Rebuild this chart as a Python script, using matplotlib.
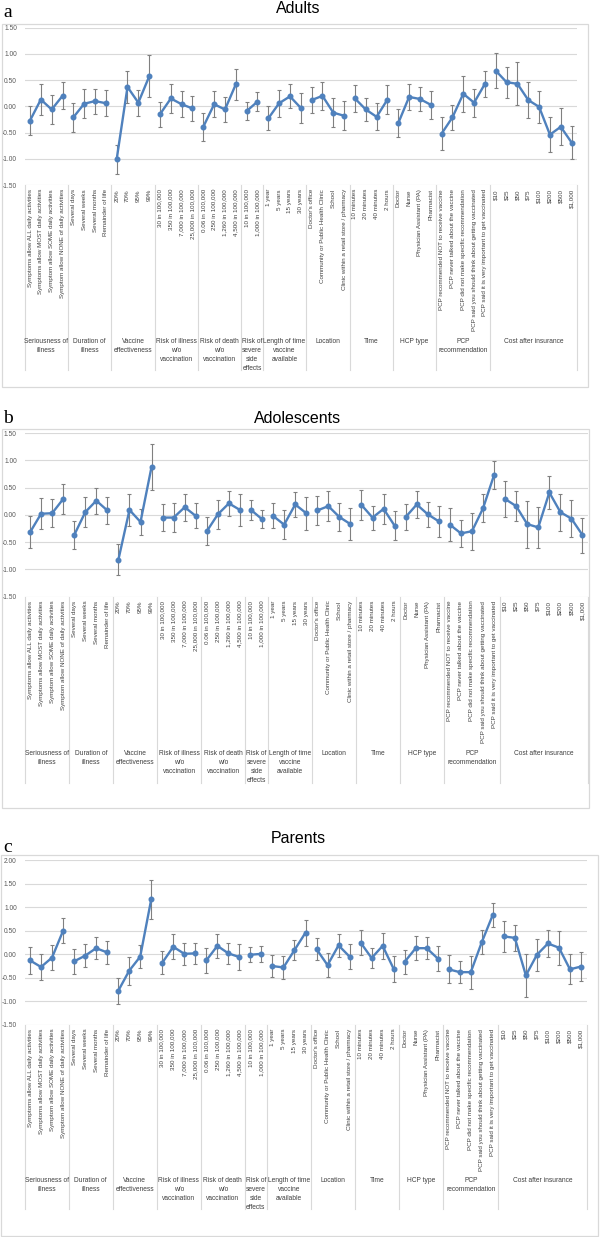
import matplotlib
matplotlib.use('Agg')
import matplotlib.pyplot as plt
import matplotlib.transforms as mtransforms
from matplotlib.patches import Rectangle
from matplotlib.ticker import FormatStrFormatter
import numpy as np

plt.rcParams['axes.unicode_minus'] = False
plt.rcParams['font.family'] = ['Liberation Sans', 'DejaVu Sans']

# attribute groups (wrapped the way the category axis shows them)
groups = ["Seriousness of\nillness", "Duration of\nillness", "Vaccine\neffectiveness",
          "Risk of illness\nw/o\nvaccination", "Risk of death\nw/o\nvaccination",
          "Risk of\nsevere\nside\neffects", "Length of time\nvaccine\navailable",
          "Location", "Time", "HCP type", "PCP\nrecommendation", "Cost after insurance"]

seriousness = ["Symptoms allow ALL daily activities", "Symptoms allow MOST daily activities",
               "Symptom allow SOME daily activities", "Symptom allow NONE of daily activities"]
duration = ["Several days", "Several weeks", "Several months", "Remainder of life"]
effectiveness = ["20%", "70%", "95%", "99%"]
illness_risk = ["30 in 100,000", "350 in 100,000", "7,000 in 100,000", "25,000 in 100,000"]
death_risk = ["0.06 in 100,000", "250 in 100,000", "1,260 in 100,000", "4,500 in 100,000"]
side_effects = ["10 in 100,000", "1,000 in 100,000"]
availability = ["1 year", "5 years", "15 years", "30 years"]
location = ["Doctor's office", "Community or Public Health Clinic", "School",
            "Clinic within a retail store / pharmacy"]
wait_time = ["10 minutes", "20 minutes", "40 minutes", "2 hours"]
hcp = ["Doctor", "Nurse", "Physician Assistant (PA)", "Pharmacist"]
pcp = ["PCP recommended NOT to receive vaccine", "PCP never talked about the vaccine",
       "PCP did not make specific recommendation", "PCP said you should think about getting vaccinated",
       "PCP said it is very important to get vaccinated"]
cost = ["$10", "$25", "$50", "$75", "$100", "$200", "$500", "$1,000"]

levels = [seriousness, duration, effectiveness, illness_risk, death_risk, side_effects,
          availability, location, wait_time, hcp, pcp, cost]

adults_values = [-0.27, 0.13, -0.06, 0.20,
                 -0.21, 0.05, 0.10, 0.06,
                 -1.01, 0.37, 0.07, 0.57,
                 -0.15, 0.15, 0.04, -0.04,
                 -0.39, 0.04, -0.06, 0.42,
                 -0.09, 0.09,
                 -0.23, 0.06, 0.19, -0.03,
                 0.12, 0.20, -0.12, -0.18,
                 0.15, -0.06, -0.20, 0.13,
                 -0.32, 0.18, 0.14, 0.03,
                 -0.52, -0.21, 0.24, 0.07, 0.43,
                 0.68, 0.46, 0.43, 0.12, -0.01, -0.54, -0.39, -0.69]
adults_errors = [0.28, 0.29, 0.28, 0.26,
                 0.27, 0.28, 0.24, 0.25,
                 0.28, 0.30, 0.25, 0.40,
                 0.24, 0.27, 0.25, 0.23,
                 0.27, 0.25, 0.23, 0.30,
                 0.17, 0.18,
                 0.23, 0.26, 0.23, 0.28,
                 0.24, 0.27, 0.27, 0.28,
                 0.25, 0.22, 0.26, 0.27,
                 0.26, 0.25, 0.23, 0.27,
                 0.32, 0.24, 0.34, 0.27, 0.25,
                 0.33, 0.30, 0.41, 0.34, 0.30, 0.34, 0.35, 0.32]

adolescents_values = [-0.32, 0.02, 0.03, 0.29,
                      -0.37, 0.05, 0.26, 0.08,
                      -0.82, 0.09, -0.13, 0.88,
                      -0.05, -0.05, 0.14, -0.02,
                      -0.30, 0.01, 0.21, 0.09,
                      0.09, -0.08,
                      -0.02, -0.18, 0.19, 0.03,
                      0.08, 0.16, -0.04, -0.17,
                      0.18, -0.05, 0.11, -0.20,
                      -0.04, 0.19, 0.01, -0.12,
                      -0.18, -0.34, -0.30, 0.12, 0.73,
                      0.29, 0.16, -0.17, -0.23, 0.41, 0.05, -0.07, -0.37]
adolescents_errors = [0.29, 0.28, 0.26, 0.27,
                      0.25, 0.27, 0.24, 0.24,
                      0.28, 0.29, 0.24, 0.42,
                      0.24, 0.27, 0.25, 0.23,
                      0.26, 0.27, 0.23, 0.29,
                      0.18, 0.17,
                      0.23, 0.26, 0.23, 0.30,
                      0.26, 0.27, 0.26, 0.29,
                      0.27, 0.22, 0.27, 0.27,
                      0.24, 0.25, 0.23, 0.28,
                      0.30, 0.25, 0.34, 0.26, 0.26,
                      0.33, 0.28, 0.43, 0.37, 0.30, 0.34, 0.34, 0.32]

parents_values = [-0.13, -0.27, -0.07, 0.50,
                  -0.15, -0.03, 0.13, 0.04,
                  -0.78, -0.35, -0.05, 1.17,
                  -0.18, 0.16, 0.01, 0.02,
                  -0.13, 0.18, 0.02, -0.06,
                  -0.01, 0.01,
                  -0.25, -0.28, 0.09, 0.46,
                  0.11, -0.23, 0.19, -0.05,
                  0.25, -0.08, 0.18, -0.31,
                  -0.16, 0.13, 0.13, -0.09,
                  -0.32, -0.38, -0.38, 0.26, 0.84,
                  0.38, 0.35, -0.45, -0.01, 0.23, 0.14, -0.32, -0.26]
parents_errors = [0.28, 0.27, 0.27, 0.27,
                  0.27, 0.25, 0.23, 0.24,
                  0.27, 0.30, 0.24, 0.42,
                  0.24, 0.27, 0.23, 0.23,
                  0.27, 0.25, 0.22, 0.28,
                  0.16, 0.17,
                  0.23, 0.25, 0.22, 0.28,
                  0.24, 0.26, 0.25, 0.27,
                  0.27, 0.21, 0.27, 0.27,
                  0.25, 0.25, 0.23, 0.27,
                  0.30, 0.24, 0.35, 0.25, 0.26,
                  0.33, 0.28, 0.45, 0.34, 0.29, 0.36, 0.32, 0.30]

W, H = 601, 1237
fig = plt.figure(figsize=(W / 100, H / 100), dpi=100)
blue = '#4f81bd'
grid = '#d9d9d9'


def fx(px):
    return px / W


def fy(py):
    return 1 - py / H


def panel(letter, title, values, errors, ymax, box, plot, label_bottom, group_top, title_y, letter_y):
    l, t, r, b = box
    fig.patches.append(Rectangle((fx(l), fy(b)), fx(r - l), (b - t) / H, transform=fig.transFigure,
                                 fill=False, ec=grid, lw=0.9))
    pl, pt, pr, pb = plot
    ax = fig.add_axes([fx(pl), fy(pb), fx(pr - pl), (pb - pt) / H])
    for s in ax.spines.values():
        s.set_visible(False)
    ax.set_xlim(-0.5, 50.5)
    ax.set_ylim(-1.5, ymax)
    ax.set_yticks(np.arange(-1.5, ymax + 0.01, 0.5))
    ax.yaxis.set_major_formatter(FormatStrFormatter('%.2f'))
    ax.yaxis.grid(True, color=grid, lw=0.8)
    ax.set_axisbelow(True)
    ax.set_xticks([])
    ax.tick_params(axis='y', length=0, pad=5.5, labelsize=4.8, labelcolor='#595959')

    trans = mtransforms.blended_transform_factory(ax.transData, fig.transFigure)
    start = 0
    for gname, labs in zip(groups, levels):
        n = len(labs)
        x = np.arange(start, start + n)
        ax.errorbar(x, values[start:start + n], yerr=errors[start:start + n], fmt='-o', color=blue,
                    lw=1.7, ms=3.3, ecolor='#808080', elinewidth=0.8, capsize=1.6, capthick=0.8, zorder=3)
        for xi, lab in zip(x, labs):
            ax.text(xi, fy(pb + 4), lab, rotation=90, ha='center', va='top', fontsize=4.5,
                    color='#404040', transform=trans, parse_math=False)
        ax.text(x.mean(), fy(group_top), gname, ha='center', va='top', fontsize=4.8,
                color='#404040', linespacing=1.4, transform=trans)
        ax.plot([start - 0.5, start - 0.5], [fy(pb), fy(label_bottom)], color=grid, lw=0.8,
                transform=trans, clip_on=False)
        start += n
    ax.plot([start - 0.5, start - 0.5], [fy(pb), fy(label_bottom)], color=grid, lw=0.8,
            transform=trans, clip_on=False)

    fig.text(fx(298), fy(title_y), title, ha='center', va='baseline', fontsize=11.5)
    fig.text(fx(3), fy(letter_y), letter, ha='left', va='baseline', fontsize=14,
             family='Liberation Serif')


panel('a', 'Adults', adults_values, adults_errors, 1.5,
      (2, 24, 588, 387), (24.6, 27.7, 577, 185), 370, 338, 13, 17)
panel('b', 'Adolescents', adolescents_values, adolescents_errors, 1.5,
      (2, 429, 589, 808), (24.5, 433, 588, 596.7), 783, 750, 423, 423)
panel('c', 'Parents', parents_values, parents_errors, 2.0,
      (1, 855, 598, 1236), (24.5, 860.3, 586.5, 1024.8), 1209, 1177, 843, 852)

fig.savefig('out.png', dpi=100)
